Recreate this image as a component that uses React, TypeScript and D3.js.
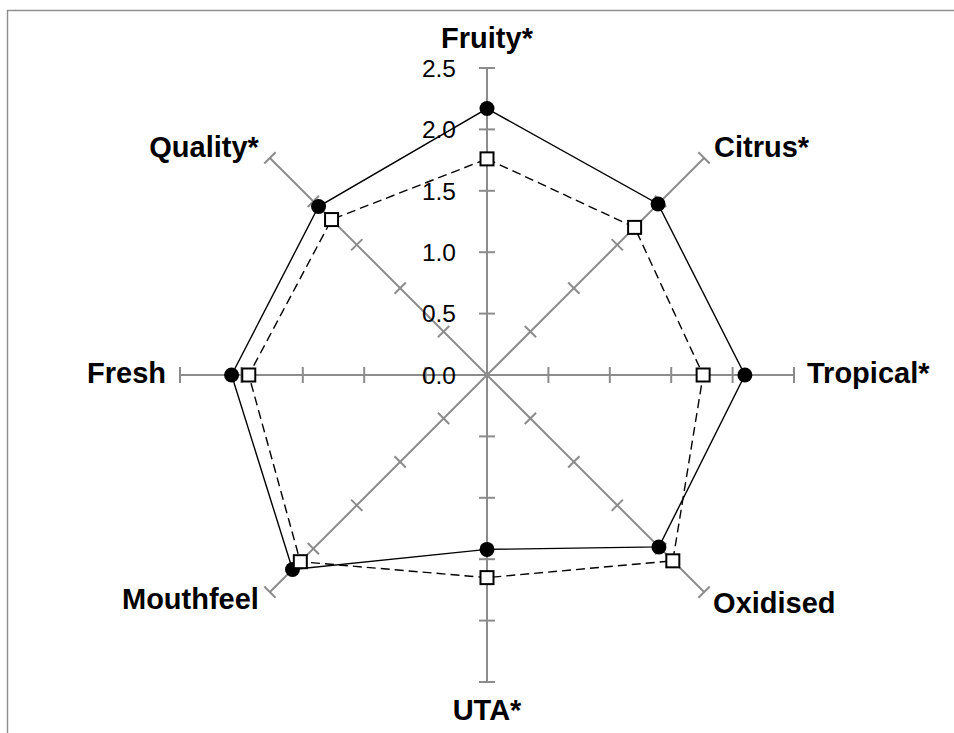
import React from "react";
import * as d3 from "d3";

const categories = ["Fruity*", "Citrus*", "Tropical*", "Oxidised", "UTA*", "Mouthfeel", "Fresh", "Quality*"];
const seriesA = [2.17, 1.97, 2.1, 1.98, 1.42, 2.24, 2.08, 1.94];
const seriesB = [1.76, 1.7, 1.76, 2.14, 1.65, 2.15, 1.94, 1.79];
const tickValues = [0, 0.5, 1.0, 1.5, 2.0, 2.5];

const W = 954;
const H = 733;
const cx = 487;
const cy = 375;
const R = 307;

// label placement per axis: dx, dy (baseline) offsets from axis end, anchor
const labelPlace: [number, number, string][] = [
  [0, -20, "middle"],
  [10, -1, "start"],
  [13, 8, "start"],
  [9, 21, "start"],
  [0, 38, "middle"],
  [-11, 17, "end"],
  [-14, 8, "end"],
  [-11, -1, "end"],
];

export default function App() {
  const r = d3.scaleLinear().domain([0, 2.5]).range([0, R]);
  const n = categories.length;
  const ang = (i: number) => (i * 2 * Math.PI) / n;
  const pt = (i: number, v: number): [number, number] => [
    cx + r(v) * Math.sin(ang(i)),
    cy - r(v) * Math.cos(ang(i)),
  ];
  const line = d3.line<[number, number]>().curve(d3.curveLinearClosed);
  const ptsA = seriesA.map((v, i) => pt(i, v));
  const ptsB = seriesB.map((v, i) => pt(i, v));
  const gray = "#8c8c8c";

  return (
    <svg width={W} height={H} style={{ position: "absolute", left: 0, top: 0 }}>
      <rect x={0} y={0} width={W} height={H} fill="#fff" />
      <rect x={7.5} y={10.5} width={1200} height={1200} fill="none" stroke={gray} strokeWidth={1.4} />
      {/* axes */}
      {categories.map((c, i) => {
        const [x2, y2] = pt(i, 2.5);
        const a = ang(i);
        const px = Math.cos(a);
        const py = Math.sin(a);
        return (
          <g key={c}>
            <line x1={cx} y1={cy} x2={x2} y2={y2} stroke={gray} strokeWidth={2} />
            {tickValues.filter((t) => t > 0).map((t) => {
              const [tx, ty] = pt(i, t);
              return (
                <line key={t} x1={tx - 8 * px} y1={ty - 8 * py} x2={tx + 8 * px} y2={ty + 8 * py} stroke={gray} strokeWidth={2} />
              );
            })}
          </g>
        );
      })}
      {/* tick labels */}
      {tickValues.map((t) => (
        <text key={t} x={456} y={cy - r(t)} dy="0.36em" textAnchor="end" fontFamily="Liberation Sans, Arial, sans-serif" fontSize={24.5} fill="#000">
          {t.toFixed(1)}
        </text>
      ))}
      {/* series */}
      <path d={line(ptsB) || ""} fill="none" stroke="#000" strokeWidth={1.4} strokeDasharray="9,5" />
      <path d={line(ptsA) || ""} fill="none" stroke="#000" strokeWidth={1.4} />
      {ptsA.map(([x, y], i) => (
        <circle key={i} cx={x} cy={y} r={7.5} fill="#000" />
      ))}
      {ptsB.map(([x, y], i) => (
        <rect key={i} x={x - 6.5} y={y - 6.5} width={13} height={13} fill="#fff" stroke="#000" strokeWidth={2} />
      ))}
      {/* category labels */}
      {categories.map((c, i) => {
        const [ex, ey] = pt(i, 2.5);
        const [dx, dy, anchor] = labelPlace[i];
        return (
          <text key={c} x={ex + dx} y={ey + dy} textAnchor={anchor as any} fontFamily="Liberation Sans, Arial, sans-serif" fontWeight="bold" fontSize={29} fill="#000">
            {c}
          </text>
        );
      })}
    </svg>
  );
}
